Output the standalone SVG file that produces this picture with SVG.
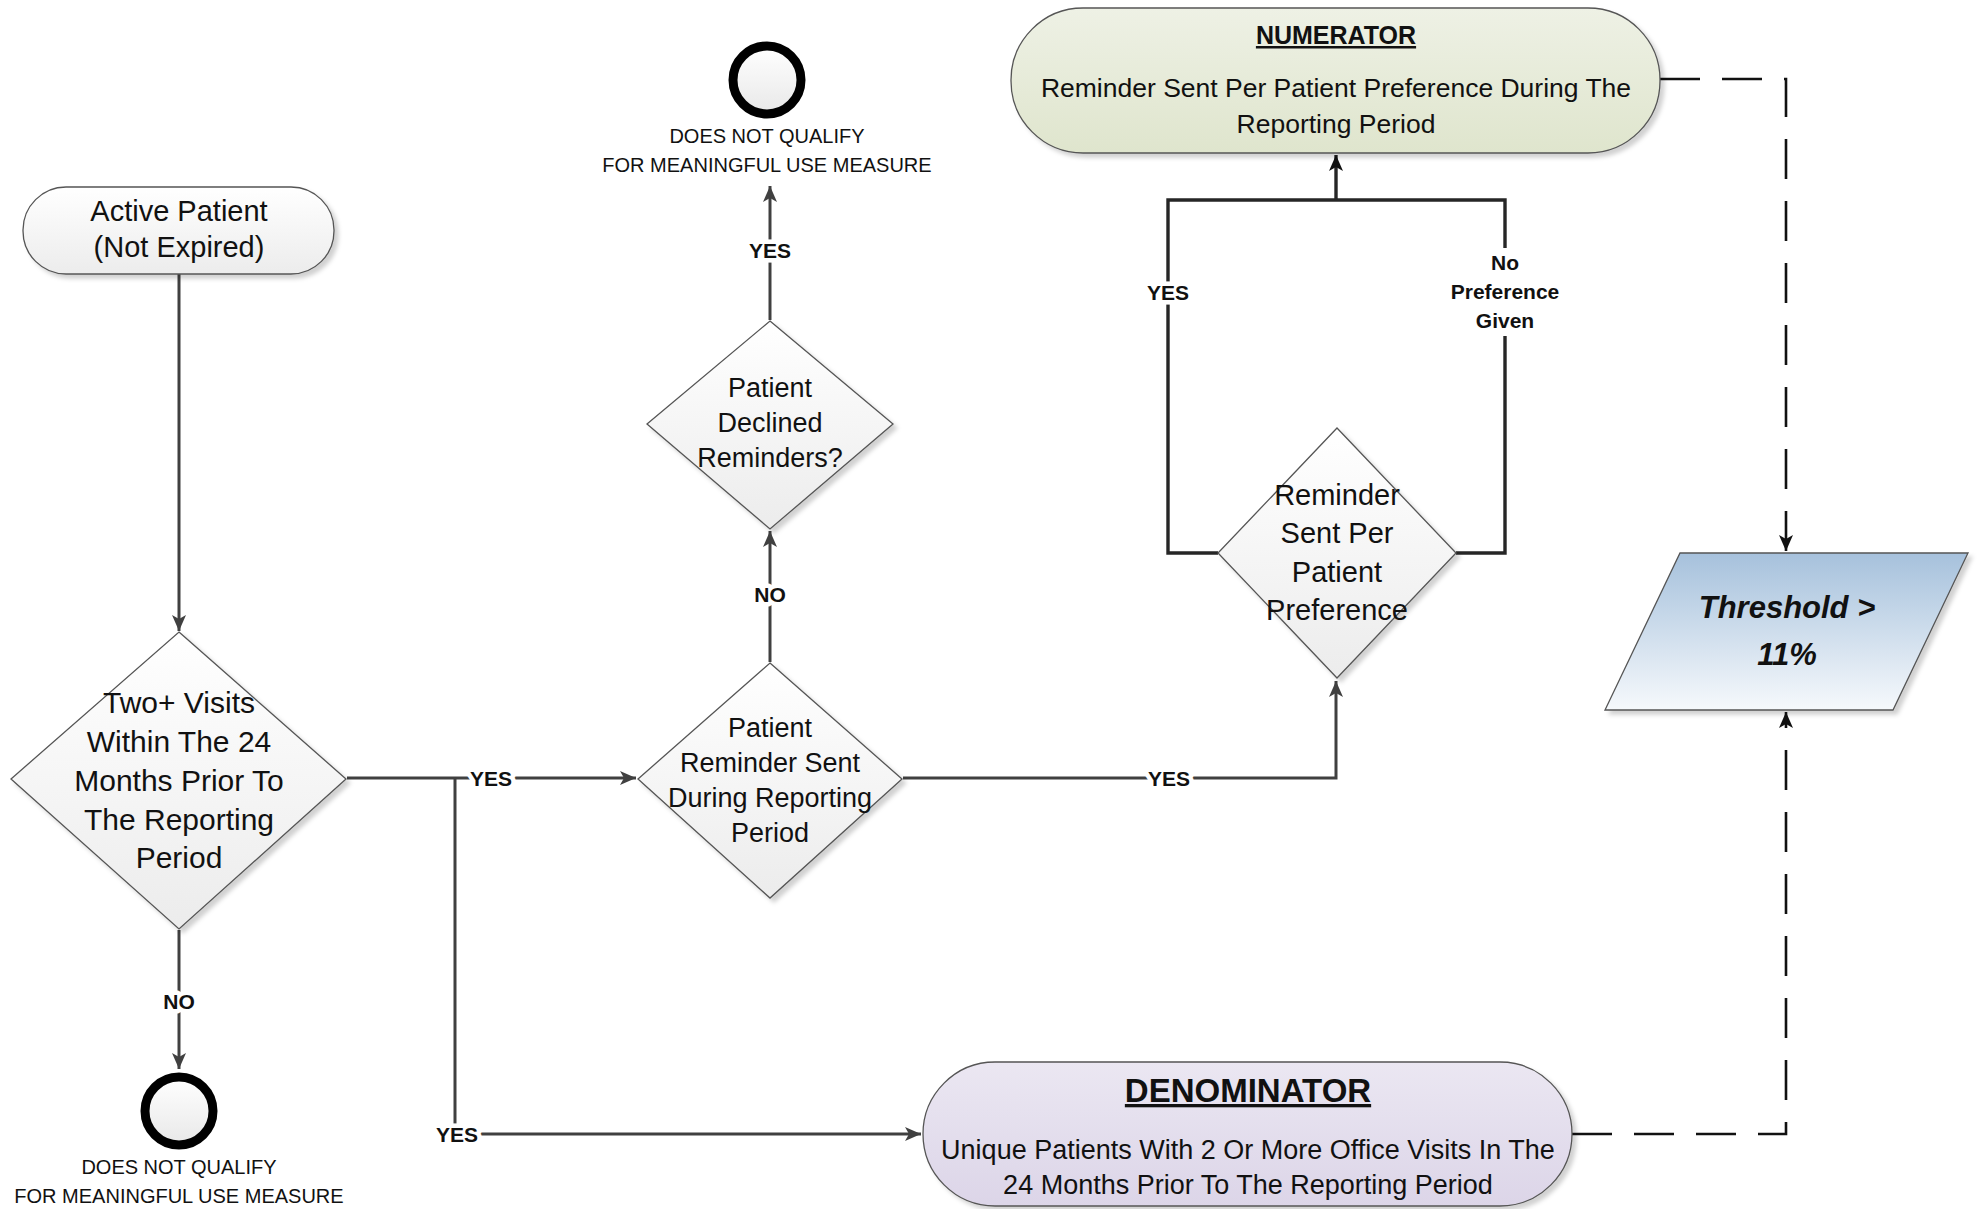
<svg xmlns="http://www.w3.org/2000/svg" width="1978" height="1209" viewBox="0 0 1978 1209">
<style>
.t{font-family:"Liberation Sans",Arial,sans-serif;fill:#111;text-anchor:middle}
.lbl{font-family:"Liberation Sans",Arial,sans-serif;font-weight:bold;font-size:21px;fill:#111;text-anchor:middle;stroke:#fff;stroke-width:9px;paint-order:stroke;stroke-linejoin:round}
.shape{stroke:#555;stroke-width:1.3}
.conn{fill:none;stroke:#404040;stroke-width:3}
.loop{fill:none;stroke:#262626;stroke-width:3.4}
.dash{fill:none;stroke:#111;stroke-width:2.6;stroke-dasharray:40 22}
.end{fill:url(#gCircle);stroke:#000;stroke-width:9}
</style>
<defs>
<linearGradient id="gGray" x1="0" y1="0" x2="0" y2="1"><stop offset="0" stop-color="#ffffff"/><stop offset="1" stop-color="#ececec"/></linearGradient>
<linearGradient id="gCircle" x1="0" y1="0" x2="0" y2="1"><stop offset="0" stop-color="#ffffff"/><stop offset="1" stop-color="#e8e8e8"/></linearGradient>
<linearGradient id="gGreen" x1="0" y1="0" x2="0" y2="1"><stop offset="0" stop-color="#eef1e5"/><stop offset="1" stop-color="#dfe5cd"/></linearGradient>
<linearGradient id="gPurple" x1="0" y1="0" x2="0" y2="1"><stop offset="0" stop-color="#ebe7f2"/><stop offset="1" stop-color="#dcd5e8"/></linearGradient>
<linearGradient id="gBlue" x1="0" y1="0" x2="0" y2="1"><stop offset="0" stop-color="#a6c1dc"/><stop offset="1" stop-color="#f6f9fc"/></linearGradient>
<filter id="sh" x="-10%" y="-10%" width="125%" height="125%"><feDropShadow dx="4" dy="4" stdDeviation="2" flood-color="#000" flood-opacity="0.18"/></filter>
<marker id="arr" viewBox="0 0 16 14" refX="16" refY="7" markerWidth="16" markerHeight="14" markerUnits="userSpaceOnUse" orient="auto"><path d="M0,0 L16,7 L0,14 L4,7 Z" fill="#404040"/></marker>
<marker id="arrB" viewBox="0 0 16 14" refX="16" refY="7" markerWidth="16" markerHeight="14" markerUnits="userSpaceOnUse" orient="auto"><path d="M0,0 L16,7 L0,14 L4,7 Z" fill="#111"/></marker>
</defs>
<rect width="1978" height="1209" fill="#fff"/>

<g id="connectors">
<path class="conn" d="M179,274 V631" marker-end="url(#arr)"/>
<path class="conn" d="M179,930 V1069" marker-end="url(#arr)"/>
<path class="conn" d="M347,778 H636" marker-end="url(#arr)"/>
<path class="conn" d="M455,778 V1134 H921" marker-end="url(#arr)"/>
<path class="conn" d="M770,662 V531" marker-end="url(#arr)"/>
<path class="conn" d="M770,320 V186" marker-end="url(#arr)"/>
<path class="conn" d="M903,778 H1336 V681" marker-end="url(#arr)"/>
<path class="loop" d="M1218,553 H1168 V200 H1505 V248 M1505,336 V553 H1456"/>
<path class="loop" d="M1336,200 V155" marker-end="url(#arrB)"/>
<path class="dash" d="M1660,79 H1786 V551" marker-end="url(#arrB)"/>
<path class="dash" d="M1572,1134 H1786 V712" marker-end="url(#arrB)"/>
<text class="lbl" x="179" y="1009">NO</text>
<text class="lbl" x="491" y="786">YES</text>
<text class="lbl" x="457" y="1142">YES</text>
<text class="lbl" x="770" y="602">NO</text>
<text class="lbl" x="770" y="258">YES</text>
<text class="lbl" x="1169" y="786">YES</text>
<text class="lbl" x="1168" y="300">YES</text>
<text class="lbl" x="1505" y="270">No</text>
<text class="lbl" x="1505" y="299">Preference</text>
<text class="lbl" x="1505" y="328">Given</text>
</g>

<g id="active-patient">
<rect class="shape" x="23" y="187" width="311" height="87" rx="43" ry="43" fill="url(#gGray)" filter="url(#sh)"/>
<text class="t" font-size="29" x="179" y="221">Active Patient</text>
<text class="t" font-size="29" x="179" y="257">(Not Expired)</text>
</g>

<g id="two-visits">
<polygon class="shape" points="179,632 346,779 179,929 11,779" fill="url(#gGray)" filter="url(#sh)"/>
<text class="t" font-size="30" x="179" y="713">Two+ Visits</text>
<text class="t" font-size="30" x="179" y="752">Within The 24</text>
<text class="t" font-size="30" x="179" y="791">Months Prior To</text>
<text class="t" font-size="30" x="179" y="830">The Reporting</text>
<text class="t" font-size="30" x="179" y="868">Period</text>
</g>

<g id="end-no">
<circle class="end" cx="179" cy="1111" r="34"/>
<text class="t" font-size="20" x="179" y="1174">DOES NOT QUALIFY</text>
<text class="t" font-size="20" x="179" y="1203">FOR MEANINGFUL USE MEASURE</text>
</g>

<g id="reminder-sent">
<polygon class="shape" points="770,663 902,779 770,898 638,779" fill="url(#gGray)" filter="url(#sh)"/>
<text class="t" font-size="27" x="770" y="737">Patient</text>
<text class="t" font-size="27" x="770" y="772">Reminder Sent</text>
<text class="t" font-size="27" x="770" y="807">During Reporting</text>
<text class="t" font-size="27" x="770" y="842">Period</text>
</g>

<g id="declined">
<polygon class="shape" points="770,321 893,424 770,529 647,424" fill="url(#gGray)" filter="url(#sh)"/>
<text class="t" font-size="27" x="770" y="397">Patient</text>
<text class="t" font-size="27" x="770" y="432">Declined</text>
<text class="t" font-size="27" x="770" y="467">Reminders?</text>
</g>

<g id="end-yes">
<circle class="end" cx="767" cy="80" r="34"/>
<text class="t" font-size="20" x="767" y="143">DOES NOT QUALIFY</text>
<text class="t" font-size="20" x="767" y="172">FOR MEANINGFUL USE MEASURE</text>
</g>

<g id="preference">
<polygon class="shape" points="1337,428 1456,553 1337,678 1218,553" fill="url(#gGray)" filter="url(#sh)"/>
<text class="t" font-size="29" x="1337" y="505">Reminder</text>
<text class="t" font-size="29" x="1337" y="543">Sent Per</text>
<text class="t" font-size="29" x="1337" y="582">Patient</text>
<text class="t" font-size="29" x="1337" y="620">Preference</text>
</g>

<g id="numerator">
<rect class="shape" x="1011" y="8" width="649" height="145" rx="72" ry="72" fill="url(#gGreen)" filter="url(#sh)"/>
<text class="t" font-size="25" font-weight="bold" text-decoration="underline" x="1336" y="44">NUMERATOR</text>
<text class="t" font-size="26.5" x="1336" y="97">Reminder Sent Per Patient Preference During The</text>
<text class="t" font-size="26.5" x="1336" y="133">Reporting Period</text>
</g>

<g id="threshold">
<polygon class="shape" points="1680,553 1968,553 1893,710 1605,710" fill="url(#gBlue)" filter="url(#sh)"/>
<text class="t" font-size="31" font-weight="bold" font-style="italic" x="1787" y="618">Threshold &gt;</text>
<text class="t" font-size="31" font-weight="bold" font-style="italic" x="1787" y="665">11%</text>
</g>

<g id="denominator">
<rect class="shape" x="923" y="1062" width="649" height="144" rx="72" ry="72" fill="url(#gPurple)" filter="url(#sh)"/>
<text class="t" font-size="33" font-weight="bold" text-decoration="underline" x="1248" y="1102">DENOMINATOR</text>
<text class="t" font-size="27" x="1248" y="1159">Unique Patients With 2 Or More Office Visits In The</text>
<text class="t" font-size="27" x="1248" y="1194">24 Months Prior To The Reporting Period</text>
</g>
</svg>
